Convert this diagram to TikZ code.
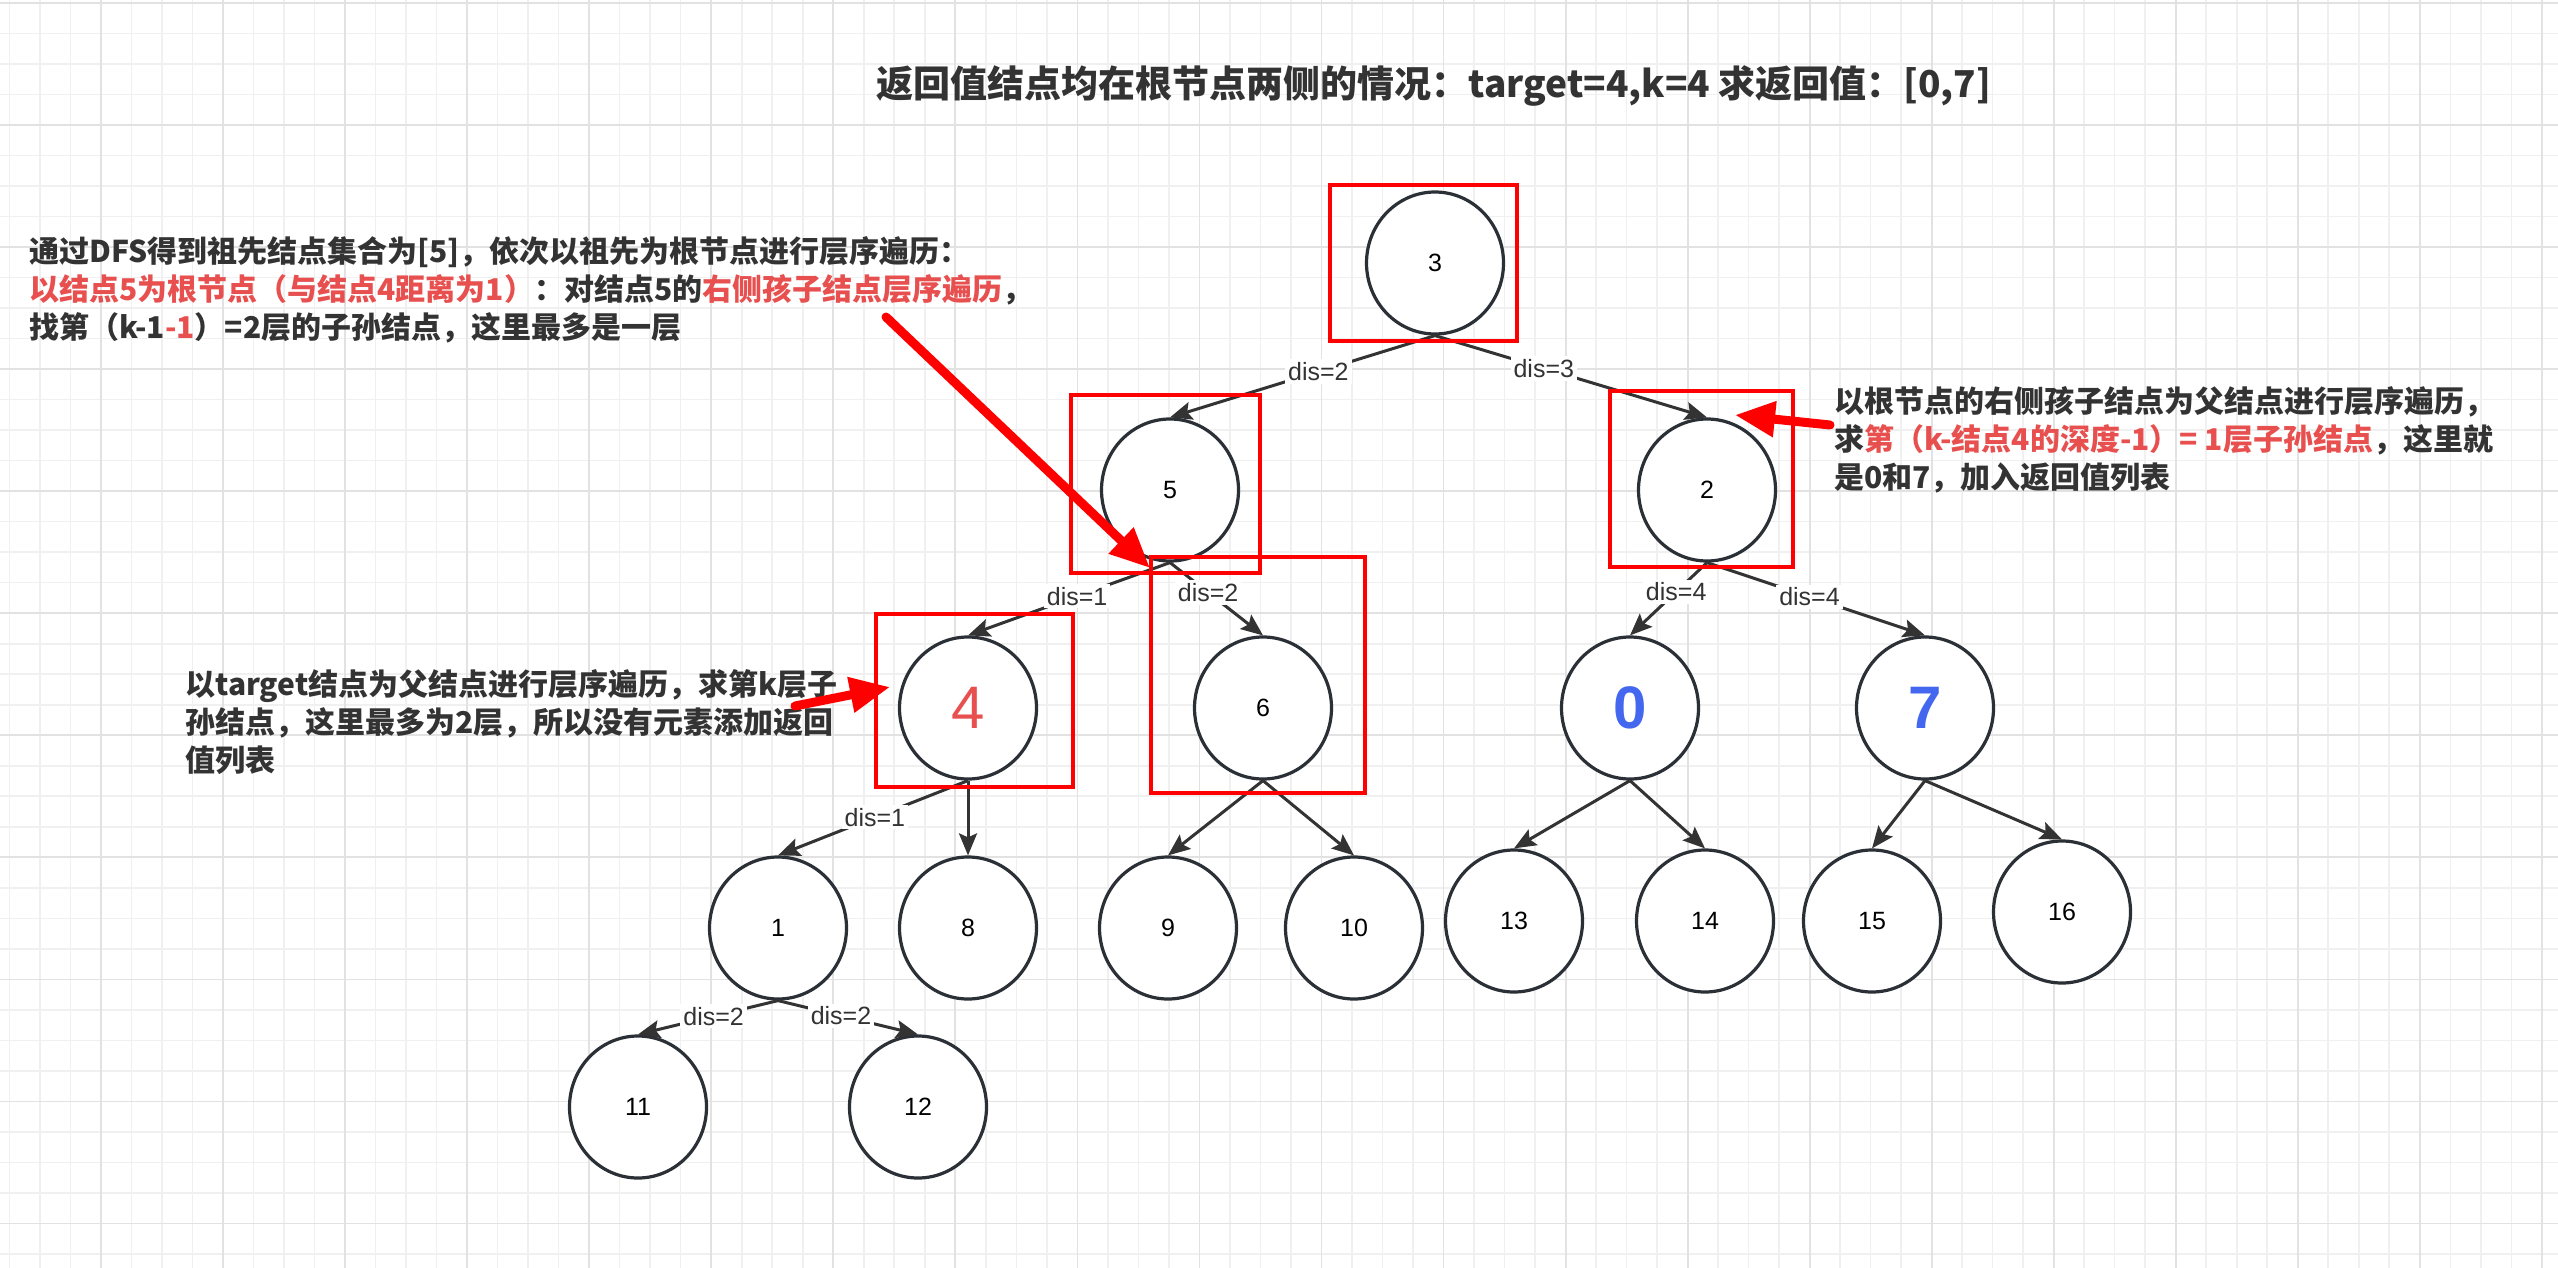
\documentclass[tikz,border=0pt]{standalone}
\usepackage{fontspec}
\setmainfont{Liberation Sans}
\newfontfamily\cjk{Noto Sans CJK SC}
\usepackage{xcolor}
\usetikzlibrary{shapes.geometric,arrows.meta}

\definecolor{inkdark}{HTML}{333333}
\definecolor{edgedark}{HTML}{2B2F36}
\definecolor{hlred}{HTML}{FF0000}
\definecolor{txtred}{HTML}{E85050}
\definecolor{txtblue}{HTML}{4467F0}
\definecolor{gridlight}{HTML}{F0F0F0}
\definecolor{gridmajor}{HTML}{E2E2E2}

\begin{document}
\begin{tikzpicture}[
        x=0.5pt, y=-0.5pt,
        tnode/.style={ellipse, draw=edgedark, line width=1.6pt, fill=white, minimum width=68.5pt, minimum height=71pt, inner sep=0pt, text=black, font=\fontsize{12.5}{15}\selectfont},
        bignum/.style={font=\fontsize{30}{36}\selectfont},
        boldnum/.style={font=\fontsize{30}{36}\selectfont\bfseries},
        arrow/.style={-{Stealth[length=11pt,width=9pt,inset=2pt]}, line width=1.5pt, draw=inkdark},
        dislabel/.style={fill=white, inner sep=1.5pt, text=inkdark, font=\fontsize{12.5}{15}\selectfont},
        redbox/.style={draw=hlred, line width=2.3pt},
        pointer/.style={-{Triangle[length=20pt,width=17pt]}, line width=4.5pt, draw=hlred, line cap=round},
        note/.style={align=left, inner sep=0pt, anchor=west, text=inkdark, font=\cjk\bfseries\fontsize{15}{19}\selectfont},
        gminor/.style={draw=gridlight, line width=0.8pt},
        gmajor/.style={draw=gridmajor, line width=0.9pt}
    ]
        \useasboundingbox (0,0) rectangle (2558,1268);

        % Background grid
        \fill[white] (0,0) rectangle (2558,1268);
        \foreach \i in {-3,...,80} \draw[gminor] ({101+\i*30.51},0) -- ({101+\i*30.51},1268);
        \foreach \j in {0,...,41} \draw[gminor] (0,{3+\j*30.51}) -- (2558,{3+\j*30.51});
        \foreach \i in {0,...,20} \draw[gmajor] ({101+\i*122.05},0) -- ({101+\i*122.05},1268);
        \foreach \j in {0,...,10} \draw[gmajor] (0,{3+\j*122.05}) -- (2558,{3+\j*122.05});

        % Title
        \node[inner sep=0pt, text=inkdark, font=\cjk\bfseries\fontsize{18.5}{22}\selectfont] (title) at (1434,86)
            {返回值结点均在根节点两侧的情况：target=4,k=4 求返回值：[0,7]};

        % Tree nodes
        \node[tnode] (n3) at (1435,263) {3};
        \node[tnode] (n5) at (1170,490) {5};
        \node[tnode] (n2) at (1707,490) {2};
        \node[tnode, bignum, text=txtred] (n4) at (968,708) {4};
        \node[tnode] (n6) at (1263,708) {6};
        \node[tnode, boldnum, text=txtblue] (n0) at (1630,708) {0};
        \node[tnode, boldnum, text=txtblue] (n7) at (1925,708) {7};
        \node[tnode] (n1) at (778,928) {1};
        \node[tnode] (n8) at (968,928) {8};
        \node[tnode] (n9) at (1168,928) {9};
        \node[tnode] (n10) at (1354,928) {10};
        \node[tnode] (n13) at (1514,921) {13};
        \node[tnode] (n14) at (1705,921) {14};
        \node[tnode] (n15) at (1872,921) {15};
        \node[tnode] (n16) at (2062,912) {16};
        \node[tnode] (n11) at (638,1107) {11};
        \node[tnode] (n12) at (918,1107) {12};

        % Connections
        \draw[arrow] (n3.south) -- node[dislabel, pos=0.44] (d35) {dis=2} (n5.north);
        \draw[arrow] (n3.south) -- node[dislabel, pos=0.40] (d32) {dis=3} (n2.north);
        \draw[arrow] (n5.south) -- node[dislabel, pos=0.46] (d54) {dis=1} (n4.north);
        \draw[arrow] (n5.south) -- node[dislabel, pos=0.41] (d56) {dis=2} (n6.north);
        \draw[arrow] (n2.south) -- node[dislabel, pos=0.40] (d20) {dis=4} (n0.north);
        \draw[arrow] (n2.south) -- node[dislabel, pos=0.47] (d27) {dis=4} (n7.north);
        \draw[arrow] (n4.south) -- node[dislabel, pos=0.49] (d41) {dis=1} (n1.north);
        \draw[arrow] (n4.south) -- (n8.north);
        \draw[arrow] (n6.south) -- (n9.north);
        \draw[arrow] (n6.south) -- (n10.north);
        \draw[arrow] (n0.south) -- (n13.north);
        \draw[arrow] (n0.south) -- (n14.north);
        \draw[arrow] (n7.south) -- (n15.north);
        \draw[arrow] (n7.south) -- (n16.north);
        \draw[arrow] (n1.south) -- node[dislabel, pos=0.46] (d111) {dis=2} (n11.north);
        \draw[arrow] (n1.south) -- node[dislabel, pos=0.45] (d112) {dis=2} (n12.north);

        % Highlight boxes
        \draw[redbox] (1330,185) rectangle (1517,341);
        \draw[redbox] (1071,395) rectangle (1260,573);
        \draw[redbox] (1610,391) rectangle (1793,567);
        \draw[redbox] (876,614) rectangle (1073,787);
        \draw[redbox] (1151,557) rectangle (1365,793);

        % Notes
        \node[note] (noteA) at (29,290)
            {通过DFS得到祖先结点集合为[5]，依次以祖先为根节点进行层序遍历：\\
             {\color{txtred}以结点5为根节点（与结点4距离为1）}：对结点5的{\color{txtred}右侧孩子结点层序遍历}，\\
             找第（k-1{\color{txtred}-1}）=2层的子孙结点，这里最多是一层};
        \node[note] (noteB) at (1834,440)
            {以根节点的右侧孩子结点为父结点进行层序遍历，\\
             求{\color{txtred}第（k-结点4的深度-1）= 1层子孙结点}，这里就\\
             是0和7，加入返回值列表};
        \node[note] (noteC) at (185,722)
            {以target结点为父结点进行层序遍历，求第k层子\\
             孙结点，这里最多为2层，所以没有元素添加返回\\
             值列表};

        % Pointers
        \coordinate (pA) at (886,317);
        \coordinate (tA) at (1150,568);
        \coordinate (pB) at (1830,425);
        \coordinate (tB) at (1735,415);
        \coordinate (pC) at (795,706);
        \coordinate (tC) at (890,687);
        \draw[pointer] (pA) -- (tA);
        \draw[pointer] (pB) -- (tB);
        \draw[pointer] (pC) -- (tC);

    \end{tikzpicture}
\end{document}
